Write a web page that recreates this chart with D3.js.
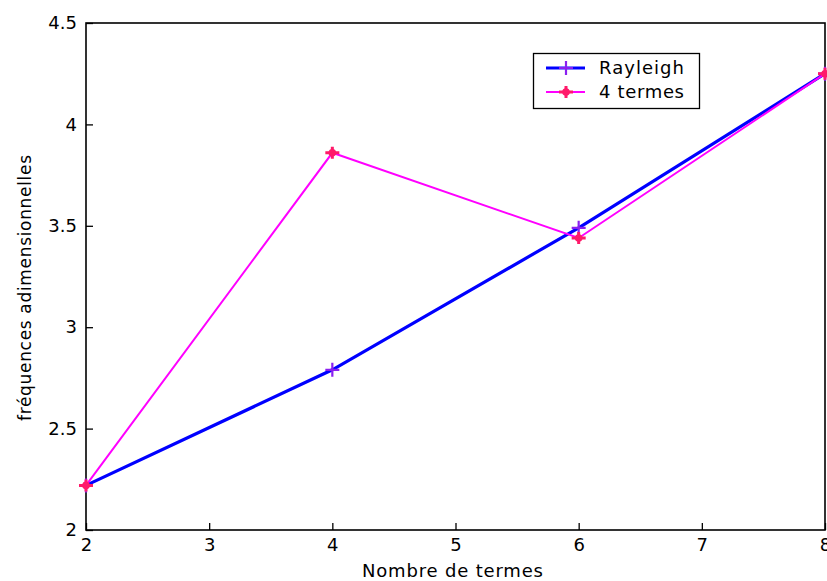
<!DOCTYPE html>
<html>
<head>
<meta charset="utf-8">
<script src="https://cdn.jsdelivr.net/npm/d3@7"></script>
<style>
  html, body { margin: 0; padding: 0; background: #fff; }
  svg text { font-family: "DejaVu Sans", "Liberation Sans", Arial, sans-serif; }
</style>
</head>
<body>
<svg id="chart" width="827" height="581"></svg>
<script>
// Number of terms used in the approximation
const termes = [2, 4, 6, 8];
// Dimensionless frequencies, Rayleigh method
const rayleigh = [2.22, 2.79, 3.49, 4.25];
// Dimensionless frequencies, four-term approximation
const quatreTermes = [2.22, 3.86, 3.44, 4.25];
const xTicks = [2, 3, 4, 5, 6, 7, 8];
const yTicks = [2, 2.5, 3, 3.5, 4, 4.5];

const svg = d3.select("#chart");
const margin = { left: 86, top: 23, right: 2, bottom: 51 };
const W = 827, H = 581;
const FS = 18;

const x = d3.scaleLinear().domain([2, 8]).range([margin.left, W - margin.right]);
const y = d3.scaleLinear().domain([2, 4.5]).range([H - margin.bottom, margin.top]);

// frame
svg.append("rect")
  .attr("x", x(2)).attr("y", y(4.5))
  .attr("width", x(8) - x(2)).attr("height", y(2) - y(4.5))
  .attr("fill", "none").attr("stroke", "#000").attr("stroke-width", 1.6);

// axes with inward ticks
const xAxis = d3.axisBottom(x).tickValues(xTicks).tickFormat(d3.format("d"))
  .tickSizeInner(-7).tickSizeOuter(0).tickPadding(8);
const gx = svg.append("g").attr("transform", `translate(0,${y(2)})`).call(xAxis);
gx.attr("font-family", null).attr("font-size", null);
gx.select(".domain").remove();
gx.selectAll("line").attr("stroke", "#000").attr("stroke-width", 1.3);
gx.selectAll("text").attr("font-size", FS).attr("fill", "#000");

const yAxis = d3.axisLeft(y).tickValues(yTicks).tickFormat(d => d3.format("")(d))
  .tickSizeInner(-7).tickSizeOuter(0).tickPadding(9);
const gy = svg.append("g").attr("transform", `translate(${x(2)},0)`).call(yAxis);
gy.attr("font-family", null).attr("font-size", null);
gy.select(".domain").remove();
gy.selectAll("line").attr("stroke", "#000").attr("stroke-width", 1.3);
gy.selectAll("text").attr("font-size", FS).attr("fill", "#000");

// axis titles
svg.append("text")
  .attr("x", 452.5).attr("y", 577)
  .attr("text-anchor", "middle").attr("font-size", FS).attr("fill", "#000")
  .attr("textLength", 181).attr("lengthAdjust", "spacing")
  .text("Nombre de termes");
svg.append("text")
  .attr("transform", `translate(31,288) rotate(-90)`)
  .attr("text-anchor", "middle").attr("font-size", 17).attr("fill", "#000")
  .attr("textLength", 266).attr("lengthAdjust", "spacing")
  .text("fréquences adimensionnelles");

const line = d3.line().x(d => x(d[0])).y(d => y(d[1]));

const seriesR = termes.map((t, i) => [t, rayleigh[i]]);
const seriesQ = termes.map((t, i) => [t, quatreTermes[i]]);

// Rayleigh line
svg.append("path").datum(seriesR).attr("d", line)
  .attr("fill", "none").attr("stroke", "#0000ff").attr("stroke-width", 3.2);
// four-term line
svg.append("path").datum(seriesQ).attr("d", line)
  .attr("fill", "none").attr("stroke", "#ff00ff").attr("stroke-width", 2);

function plus(g, cx, cy, s, color, w) {
  g.append("path")
    .attr("d", `M${cx - s},${cy}H${cx + s}M${cx},${cy - s}V${cy + s}`)
    .attr("stroke", color).attr("stroke-width", w).attr("fill", "none");
}
function star(g, cx, cy, color) {
  g.append("path")
    .attr("d", `M${cx - 7},${cy}H${cx + 7}M${cx},${cy - 6}V${cy + 6}`)
    .attr("stroke", color).attr("stroke-width", 3).attr("fill", "none");
  g.append("circle").attr("cx", cx).attr("cy", cy).attr("r", 3.8).attr("fill", color);
}

const marks = svg.append("g");
seriesR.forEach(d => plus(marks, x(d[0]), y(d[1]), 7, "#8a1ff0", 2.2));
seriesQ.forEach(d => star(marks, x(d[0]), y(d[1]), "#ff1a6a"));

// legend
const lg = svg.append("g");
lg.append("rect").attr("x", 533.5).attr("y", 53.5).attr("width", 166).attr("height", 55)
  .attr("fill", "#fff").attr("stroke", "#000").attr("stroke-width", 1.3);
const entries = [
  { name: "Rayleigh", color: "#0000ff", w: 3.2, mk: "plus", yy: 68 },
  { name: "4 termes", color: "#ff00ff", w: 2, mk: "star", yy: 92 }
];
entries.forEach(e => {
  lg.append("line").attr("x1", 546).attr("x2", 585).attr("y1", e.yy).attr("y2", e.yy)
    .attr("stroke", e.color).attr("stroke-width", e.w);
  if (e.mk === "plus") plus(lg, 566, e.yy, 7, "#8a1ff0", 2.2);
  else star(lg, 566, e.yy, "#ff1a6a");
  lg.append("text").attr("x", 599).attr("y", e.yy + 6)
    .attr("font-size", FS).attr("fill", "#000")
    .attr("textLength", 85).attr("lengthAdjust", "spacing")
    .text(e.name);
});
</script>
</body>
</html>
